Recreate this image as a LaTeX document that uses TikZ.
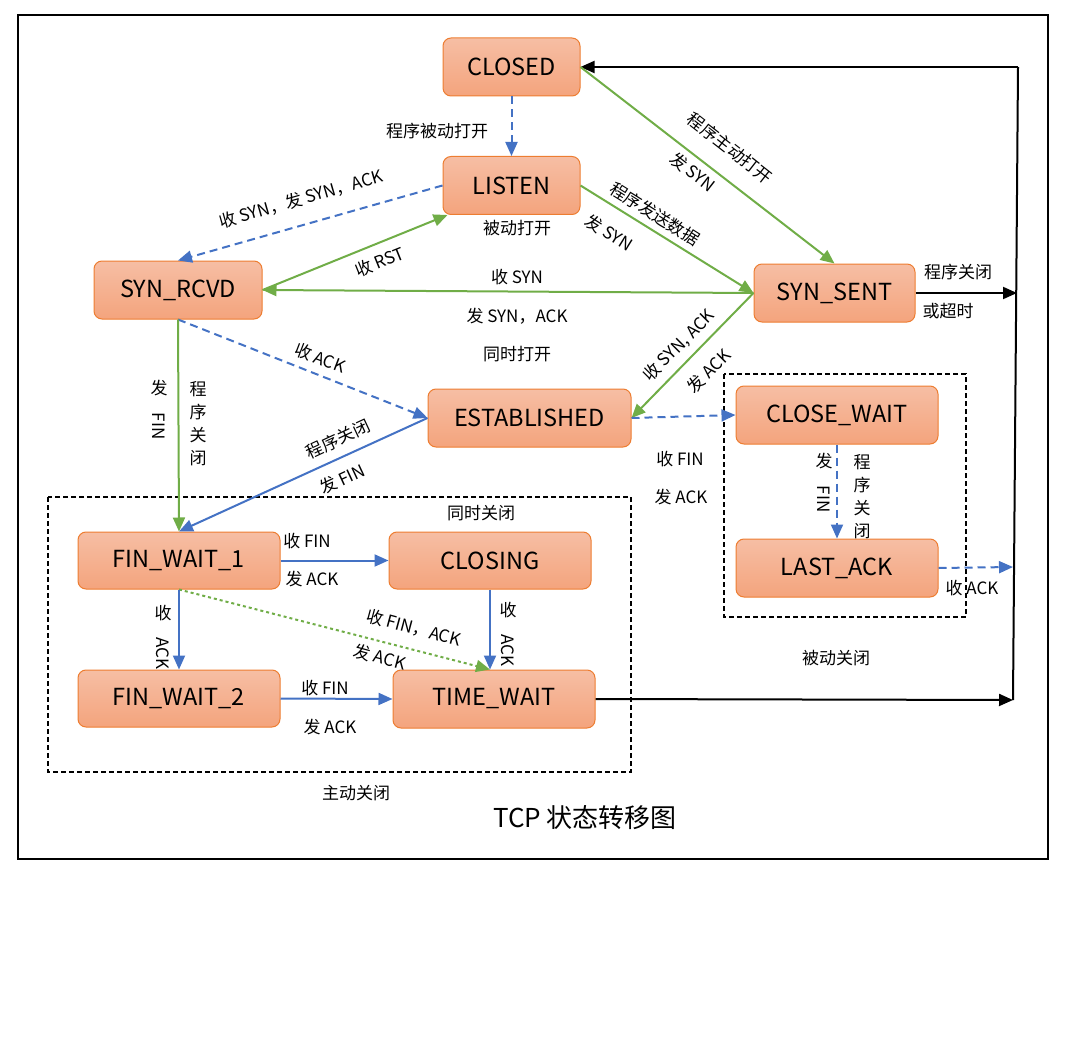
\documentclass[tikz,border=0pt]{standalone}
\usepackage{fontspec}
\setmainfont{Noto Sans CJK SC}
\usepackage{graphicx}
\usetikzlibrary{arrows.meta}
\definecolor{cblue}{HTML}{4472C4}
\definecolor{cgreen}{HTML}{70AD47}
\definecolor{corange}{HTML}{ED7D31}
\definecolor{ctop}{HTML}{F6BEA4}
\definecolor{cbot}{HTML}{F4A47D}
\begin{document}
\begin{tikzpicture}[x=1pt,y=-1pt,
  st/.style={draw=corange, line width=1pt, rounded corners=8pt, top color=ctop, bottom color=cbot,
    minimum height=58pt, font=\fontsize{23.5}{25}\selectfont, inner sep=0pt},
  lb/.style={font=\fontsize{17}{19}\selectfont, inner sep=1pt},
  vlb/.style={font=\fontsize{17}{23}\selectfont, inner sep=1pt, align=center},
  tipc/.style={-{Triangle[length=14pt,width=12pt]}},
  bl/.style={draw=cblue, line width=2pt, tipc},
  gr/.style={draw=cgreen, line width=2pt, tipc},
  bk/.style={draw=black, line width=2pt, tipc},
  dsh/.style={dash pattern=on 8pt off 5pt},
  dot/.style={dash pattern=on 3pt off 3pt},
  grp/.style={draw=black, line width=1.3pt, dash pattern=on 5pt off 3pt}
]
\useasboundingbox (0,0) rectangle (1079,1043);
\draw[line width=1.5pt] (18,15) rectangle (1048,859);

% groups
\draw[grp] (48,497) rectangle (631,772);
\draw[grp] (724,374) rectangle (966,617);

% states
\node[st, minimum width=137pt] (closed) at (511.5,67) {CLOSED};
\node[st, minimum width=137pt] (listen) at (511.5,185.5) {LISTEN};
\node[st, minimum width=168pt] (synrcvd) at (178,290) {SYN\_RCVD};
\node[st, minimum width=161pt] (synsent) at (834.5,293) {SYN\_SENT};
\node[st, minimum width=203pt] (est) at (529.5,418) {ESTABLISHED};
\node[st, minimum width=202pt] (closewait) at (837,415) {CLOSE\_WAIT};
\node[st, minimum width=202pt] (lastack) at (837,568) {LAST\_ACK};
\node[st, minimum width=202pt, minimum height=57pt] (fw1) at (179,560.5) {FIN\_WAIT\_1};
\node[st, minimum width=202pt, minimum height=57pt] (closing) at (490,560.5) {CLOSING};
\node[st, minimum width=202pt, minimum height=57pt] (fw2) at (179,698.5) {FIN\_WAIT\_2};
\node[st, minimum width=202pt] (tw) at (494,699) {TIME\_WAIT};

% right-hand return line
\coordinate (tr) at (1018,67);
\coordinate (br) at (1013,700);
\coordinate (mr) at (1017,293);
\coordinate (la) at (1013,567);
\draw[line width=2pt] (tr) -- (br);
\draw[bk] (tr) -- (closed.east);
\draw[bk] (synsent.east) -- (mr);
\draw[bk] (tw.east) -- (br);

% connectors
\draw[bl,dsh] (closed.south) -- (listen.north);
\draw[bl,dsh] (listen.west) -- (synrcvd.north);
\draw[gr] (synrcvd.east) -- ([xshift=5pt]listen.south west);
\draw[gr] (closed.east) -- (synsent.north);
\draw[gr] (listen.east) -- (synsent.west);
\draw[gr] (synsent.west) -- (synrcvd.east);
\draw[gr] (synsent.west) -- (est.east);
\draw[bl,dsh] (synrcvd.south) -- (est.west);
\draw[gr] (synrcvd.south) -- (fw1.north);
\draw[bl] (est.west) -- (fw1.north);
\draw[bl,dsh] (est.east) -- (closewait.west);
\draw[bl,dsh] (closewait.south) -- (lastack.north);
\draw[bl,dsh] (lastack.east) -- (la);
\draw[bl] (fw1.east) -- (closing.west);
\draw[draw=cgreen, line width=2pt, dot, tipc] (fw1.south) -- ([xshift=-4pt]tw.north);
\draw[bl] (closing.south) -- ([xshift=-4pt]tw.north);
\draw[bl] (fw1.south) -- (fw2.north);
\draw[bl] (fw2.east) -- (tw.west);

% labels
\node[lb] (t1) at (437,131) {程序被动打开};
\node[lb] (t2) at (517,228) {被动打开};
\node[lb, rotate=16] (t3) at (301,199) {收 SYN，发 SYN，ACK};
\node[lb, rotate=22] (t4) at (380,262) {收 RST};
\node[lb, rotate=-38] (t5) at (730,148) {程序主动打开};
\node[lb, rotate=-38] (t6) at (693,172) {发 SYN};
\node[lb, rotate=-32] (t7) at (655,214) {程序发送数据};
\node[lb, rotate=-32] (t8) at (609,233) {发 SYN};
\node[lb] (t9) at (517,277) {收 SYN};
\node[lb] (t10) at (517,316) {发 SYN，ACK};
\node[lb] (t11) at (517,354) {同时打开};
\node[lb, rotate=45] (t12) at (679,346) {收 SYN, ACK};
\node[lb, rotate=45] (t13) at (709,371) {发 ACK};
\node[lb, rotate=-21] (t14) at (320,358) {收 ACK};
\node[lb, rotate=25] (t15) at (338,439) {程序关闭};
\node[lb, rotate=25] (t16) at (342,479) {发 FIN};
\node[vlb] (t17) at (159,410) {发\\[-5pt]\rotatebox{-90}{FIN}};
\node[vlb] (t18) at (198,424) {程\\序\\关\\闭};
\node[lb] (t19) at (680,459) {收 FIN};
\node[lb] (t20) at (681,497) {发 ACK};
\node[vlb] (t21) at (824,483) {发\\[-5pt]\rotatebox{-90}{FIN}};
\node[vlb] (t22) at (862,497) {程\\序\\关\\闭};
\node[lb] (t23) at (972,588) {收 ACK};
\node[lb] (t24) at (307,541) {收 FIN};
\node[lb] (t25) at (312,579) {发 ACK};
\node[lb, rotate=-15] (t26) at (414,628) {收 FIN，ACK};
\node[lb, rotate=-15] (t27) at (380,657) {发 ACK};
\node[vlb] (t28) at (508,634) {收\\[-5pt]\rotatebox{-90}{ACK}};
\node[vlb] (t29) at (163,637) {收\\[-5pt]\rotatebox{-90}{ACK}};
\node[lb] (t30) at (325,688) {收 FIN};
\node[lb] (t31) at (330,727) {发 ACK};
\node[lb] (t32) at (481,513) {同时关闭};
\node[lb] (t33) at (836,658) {被动关闭};
\node[lb] (t34) at (356,793) {主动关闭};
\node[lb] (t35) at (958,272) {程序关闭};
\node[lb] (t36) at (948,311) {或超时};
\node[font=\fontsize{26}{28}\selectfont] (title) at (585,818) {TCP 状态转移图};
\end{tikzpicture}
\end{document}
